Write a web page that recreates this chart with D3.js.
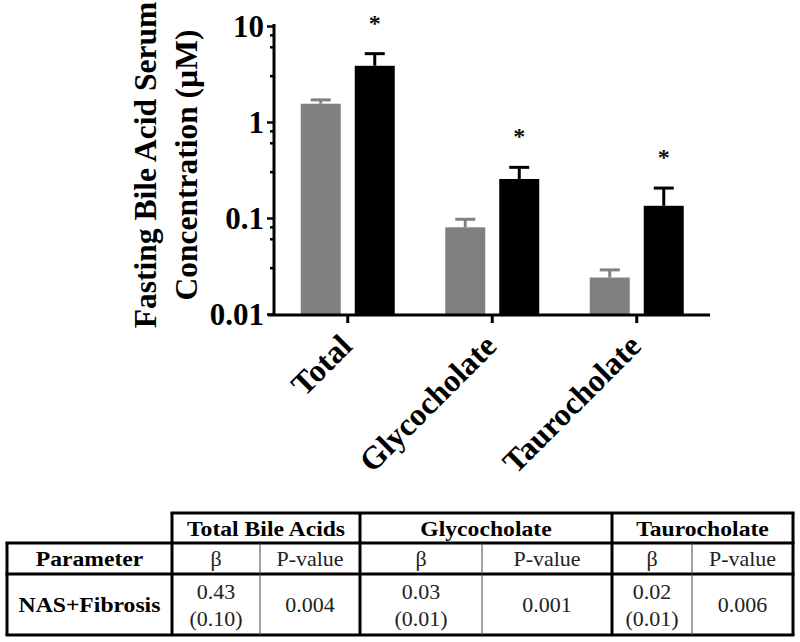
<!DOCTYPE html>
<html>
<head>
<meta charset="utf-8">
<script src="https://cdn.jsdelivr.net/npm/d3@7"></script>
<style>
  html, body { margin: 0; padding: 0; background: #fff; }
  svg { display: block; }
</style>
</head>
<body>
<svg id="chart" width="800" height="642"></svg>
<script>
// ---------- data ----------
const categories = ["Total", "Glycocholate", "Taurocholate"];
const grayMeans = [1.55, 0.080, 0.024];
const grayUpper = [1.70, 0.097, 0.0288];
const blackMeans = [3.85, 0.255, 0.134];
const blackUpper = [5.15, 0.337, 0.205];
const significant = [true, true, true];
const yTickValues = [0.01, 0.1, 1, 10];
const yTickLabels = ["0.01", "0.1", "1", "10"];
const minorMultipliers = [3, 6, 8];
const yTitleLines = ["Fasting Bile Acid Serum", "Concentration (\u00b5M)"];

// table data
const tableGroups = ["Total Bile Acids", "Glycocholate", "Taurocholate"];
const tableSubHeaders = ["\u03b2", "P-value"];
const tableParamHeader = "Parameter";
const tableRowLabel = "NAS+Fibrosis";
const tableBeta = ["0.43", "0.03", "0.02"];
const tableBetaSE = ["(0.10)", "(0.01)", "(0.01)"];
const tablePValues = ["0.004", "0.001", "0.006"];

// ---------- chart ----------
const svg = d3.select("#chart");
const serif = "'Liberation Serif', 'Times New Roman', serif";

const y = d3.scaleLog().domain([0.01, 10]).range([314, 26]);
const x = d3.scaleBand().domain(categories).range([275.5, 709]).paddingInner(0).paddingOuter(0);
const barW = 40, barGap = 7;
const grayColor = "#808080";

const g = svg.append("g");

const data = categories.map((c, i) => ({
  c, gm: grayMeans[i], gu: grayUpper[i], bm: blackMeans[i], bu: blackUpper[i], sig: significant[i]
}));
const cx = d => x(d.c) + x.bandwidth() / 2;

// bars
g.selectAll("rect.gray").data(data).join("rect")
  .attr("x", d => cx(d) - barGap - barW)
  .attr("y", d => y(d.gm))
  .attr("width", barW)
  .attr("height", d => y(0.01) - y(d.gm))
  .attr("fill", grayColor);
g.selectAll("rect.black").data(data).join("rect")
  .attr("x", d => cx(d) + barGap)
  .attr("y", d => y(d.bm))
  .attr("width", barW)
  .attr("height", d => y(0.01) - y(d.bm))
  .attr("fill", "#000");

// error bars (upper only)
const capW = 20;
function errBar(sel, xc, mean, upper, color) {
  sel.append("line").attr("x1", xc).attr("x2", xc).attr("y1", y(mean)).attr("y2", y(upper))
    .attr("stroke", color).attr("stroke-width", 3);
  sel.append("line").attr("x1", xc - capW / 2).attr("x2", xc + capW / 2).attr("y1", y(upper)).attr("y2", y(upper))
    .attr("stroke", color).attr("stroke-width", 3);
}
data.forEach(d => {
  errBar(g, cx(d) - barGap - barW / 2, d.gm, d.gu, grayColor);
  errBar(g, cx(d) + barGap + barW / 2, d.bm, d.bu, "#000");
});

// asterisks
g.selectAll("text.star").data(data.filter(d => d.sig)).join("text")
  .attr("x", d => cx(d) + barGap + barW / 2)
  .attr("y", d => y(d.bu) - 23)
  .attr("text-anchor", "middle")
  .attr("font-family", serif)
  .attr("font-size", 24)
  .attr("font-weight", "bold")
  .attr("fill", "#111")
  .text("*");

// y axis
const yAxisX = 274;
const yAxis = d3.axisLeft(y).tickValues(yTickValues).tickFormat((d, i) => yTickLabels[i]).tickSize(7).tickPadding(3);
const ya = svg.append("g").attr("transform", `translate(${yAxisX},0)`).call(yAxis);
ya.select(".domain").attr("stroke", "#000").attr("stroke-width", 3).attr("d", `M0,${y(10) - 2}V${y(0.01) + 1.5}`);
ya.selectAll(".tick line").attr("stroke", "#000").attr("stroke-width", 2.5);
ya.selectAll(".tick text")
  .attr("font-family", serif).attr("font-size", 31).attr("font-weight", "bold").attr("fill", "#000")
  .attr("dy", "0.34em");

// minor ticks
const minorVals = [];
[0.01, 0.1, 1].forEach(dec => minorMultipliers.forEach(m => minorVals.push(dec * m)));
svg.append("g").selectAll("line").data(minorVals).join("line")
  .attr("x1", yAxisX - 4).attr("x2", yAxisX)
  .attr("y1", d => y(d)).attr("y2", d => y(d))
  .attr("stroke", "#000").attr("stroke-width", 2.5);

// x axis
const xAxis = d3.axisBottom(x).tickSize(8).tickFormat("");
const xa = svg.append("g").attr("transform", `translate(0,${y(0.01) + 1})`).call(xAxis);
xa.select(".domain").attr("stroke", "#000").attr("stroke-width", 3).attr("d", `M268,0H710`);
xa.selectAll(".tick line").attr("stroke", "#000").attr("stroke-width", 3);

// x labels rotated
svg.append("g").selectAll("text").data(categories).join("text")
  .attr("transform", d => `translate(${x(d) + x.bandwidth() / 2 + 6},${348}) rotate(-45)`)
  .attr("text-anchor", "end")
  .attr("font-family", serif).attr("font-size", 32).attr("font-weight", "bold").attr("fill", "#000")
  .text(d => d);

// y title
const yTitle = svg.append("g").attr("transform", "translate(0,165) rotate(-90)");
yTitle.selectAll("text").data(yTitleLines).join("text")
  .attr("x", 0)
  .attr("y", (d, i) => 156 + i * 41)
  .attr("text-anchor", "middle")
  .attr("font-family", serif).attr("font-size", 31.5).attr("font-weight", "bold").attr("fill", "#000")
  .text(d => d);

// ---------- table ----------
const tb = svg.append("g");
const colX = [7, 172, 260, 360, 482, 612, 692, 793];
const rowY = [513, 543, 574, 635];
const thick = 3, thin = 1;

function hline(x1, x2, yy, w, col) {
  tb.append("line").attr("x1", x1).attr("x2", x2).attr("y1", yy).attr("y2", yy)
    .attr("stroke", col || "#000").attr("stroke-width", w);
}
function vline(xx, y1, y2, w, col) {
  tb.append("line").attr("x1", xx).attr("x2", xx).attr("y1", y1).attr("y2", y2)
    .attr("stroke", col || "#000").attr("stroke-width", w);
}
// horizontal
hline(colX[1] - 1.5, colX[7] + 1.5, rowY[0], thick);
hline(colX[0] - 1.5, colX[7] + 1.5, rowY[1], thick);
hline(colX[0] - 1.5, colX[7] + 1.5, rowY[2], thick);
hline(colX[0] - 1.5, colX[7] + 1.5, rowY[3], thick);
// vertical thick
vline(colX[0], rowY[1], rowY[3], thick);
[1, 3, 5, 7].forEach(i => vline(colX[i], rowY[0], rowY[3], thick));
// vertical thin
[2, 4, 6].forEach(i => vline(colX[i], rowY[1], rowY[3], thin, "#444"));

function cellText(txt, xc, yc, bold, size) {
  tb.append("text")
    .attr("transform", `translate(${xc},${yc}) scale(1.1,1)`)
    .attr("dy", "0.35em")
    .attr("text-anchor", "middle")
    .attr("font-family", serif)
    .attr("font-size", size)
    .attr("font-weight", bold ? "bold" : "normal")
    .attr("fill", bold ? "#000" : "#222")
    .text(txt);
}
const r1c = (rowY[0] + rowY[1]) / 2, r2c = (rowY[1] + rowY[2]) / 2, r3c = (rowY[2] + rowY[3]) / 2;
tableGroups.forEach((t, i) => {
  const a = colX[1 + i * 2], b = colX[3 + i * 2];
  cellText(t, (a + b) / 2, r1c, true, 21.5);
});
cellText(tableParamHeader, (colX[0] + colX[1]) / 2, r2c, true, 21.5);
cellText(tableRowLabel, (colX[0] + colX[1]) / 2, r3c, true, 21.5);
for (let i = 0; i < 3; i++) {
  const a = colX[1 + i * 2], m = colX[2 + i * 2], b = colX[3 + i * 2];
  cellText(tableSubHeaders[0], (a + m) / 2, r2c, false, 20);
  cellText(tableSubHeaders[1], (m + b) / 2, r2c, false, 20);
  cellText(tableBeta[i], (a + m) / 2, r3c - 13, false, 20);
  cellText(tableBetaSE[i], (a + m) / 2, r3c + 14, false, 20);
  cellText(tablePValues[i], (m + b) / 2, r3c, false, 20);
}
</script>
</body>
</html>
